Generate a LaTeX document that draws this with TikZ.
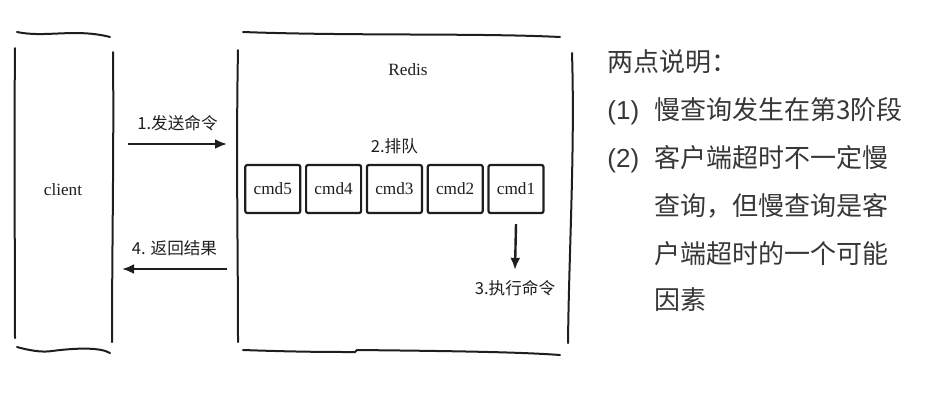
\documentclass[tikz,border=0pt]{standalone}
\usepackage{fontspec}
\usepackage{xcolor}
\usepackage{tikz}
\usetikzlibrary{arrows.meta, positioning}
\newfontfamily\cjk{Noto Sans CJK SC}
\newfontfamily\latinserif{Liberation Serif}
\newfontfamily\latinsans{Liberation Sans}
\definecolor{inkgray}{RGB}{30, 30, 30}
\definecolor{notegray}{RGB}{55, 55, 55}

\begin{document}
\begin{tikzpicture}[
  x=0.5pt, y=-0.5pt,
  node distance=1.8pt,
  sketch/.style={draw=inkgray, line width=1pt, line cap=round},
  cmdbox/.style={draw=inkgray, line width=1.1pt, rounded corners=1pt,
    minimum width=27.5pt, minimum height=24pt, inner sep=0pt,
    font=\latinserif\fontsize{8.6}{9}\selectfont, text=inkgray},
  lbl/.style={font=\cjk\fontsize{8.3}{9}\selectfont, text=inkgray, inner sep=1pt},
  arr/.style={-{Latex[length=6pt, width=5pt]}, line width=1.2pt, inkgray},
  note/.style={anchor=base west, font=\cjk\fontsize{13}{15}\selectfont,
    text=notegray, inner sep=0pt}
]
\useasboundingbox (0,0) rectangle (926,403);

% client column
\draw[sketch] (17,32) .. controls (45,38) and (75,28) .. (110,37);
\draw[sketch] (15,48) .. controls (14,150) and (15,250) .. (15,338);
\draw[sketch] (113,52) .. controls (114,150) and (112,250) .. (112,342);
\draw[sketch] (17,347) .. controls (35,352) and (45,352) .. (52,351)
  .. controls (75,348) and (100,347) .. (110,353);
\node[font=\latinserif\fontsize{8.6}{9}\selectfont, text=inkgray] (client) at (63,190) {client};

% redis column
\draw[sketch] (243,32) .. controls (350,36) and (480,33) .. (560,37);
\draw[sketch] (238,50) .. controls (236,150) and (238,250) .. (238,342);
\draw[sketch] (572,53) .. controls (575,150) and (569,250) .. (568,343);
\draw[sketch] (243,350) .. controls (300,352) and (330,352) .. (355,352)
  -- (357,350) .. controls (450,351) and (520,352) .. (560,355);
\node[font=\latinserif\fontsize{8.6}{9}\selectfont, text=inkgray] (redis) at (408,70) {Redis};

% queue
\node[cmdbox] (cmd1) at (516,189) {cmd1};
\node[cmdbox, left=of cmd1] (cmd2) {cmd2};
\node[cmdbox, left=of cmd2] (cmd3) {cmd3};
\node[cmdbox, left=of cmd3] (cmd4) {cmd4};
\node[cmdbox, left=of cmd4] (cmd5) {cmd5};
\node[lbl, above=4pt of cmd3] (queue) {2.排队};

% execute
\node[lbl] (exec) at (515,288) {3.执行命令};
\draw[arr] ([yshift=-5pt]cmd1.south) -- ([yshift=4pt]exec.north);

% send and return
\coordinate (csend) at (128,144);
\coordinate (rsend) at (227,144);
\coordinate (rback) at (227,269);
\coordinate (cback) at (122,269);
\draw[arr] (csend) -- node[lbl, above=5pt] (send) {1.发送命令} (rsend);
\draw[arr] (rback) -- node[lbl, above=5pt] (back) {4. 返回结果} (cback);

% notes
\node[note] (note0) at (607,71) {两点说明：};
\node[note, font=\latinsans\fontsize{13}{15}\selectfont] (num1) at (607,119) {(1)};
\node[note] (item1) at (654,119) {慢查询发生在第3阶段};
\node[note, font=\latinsans\fontsize{13}{15}\selectfont] (num2) at (607,167) {(2)};
\node[note] (item2) at (654,167) {客户端超时不一定慢};
\node[note] (item3) at (654,215) {查询，但慢查询是客};
\node[note] (item4) at (654,263) {户端超时的一个可能};
\node[note] (item5) at (654,309) {因素};
\end{tikzpicture}
\end{document}
